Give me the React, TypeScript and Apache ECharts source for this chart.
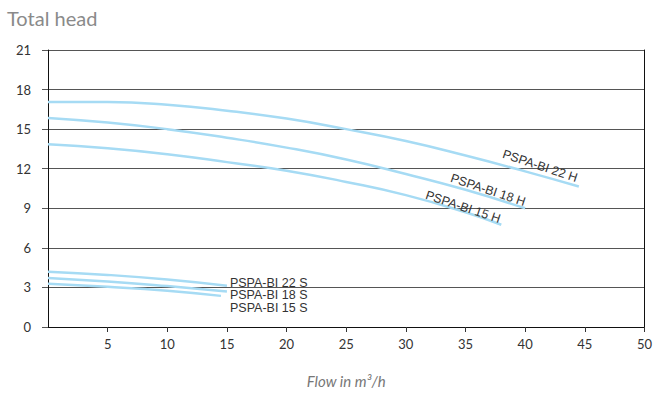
import React, { useEffect, useRef } from "react";
import * as echarts from "echarts";

const xTicks = [0, 5, 10, 15, 20, 25, 30, 35, 40, 45, 50];
const yTicks = [0, 3, 6, 9, 12, 15, 18, 21];

const h22x = [0, 5, 10, 15, 20, 25, 30, 35, 40, 44.5];
const h22y = [17.05, 17.05, 16.85, 16.4, 15.8, 15.0, 14.1, 13.0, 11.8, 10.65];
const h18x = [0, 5, 10, 15, 20, 25, 30, 35, 40];
const h18y = [15.85, 15.5, 15.0, 14.35, 13.6, 12.7, 11.6, 10.4, 9.0];
const h15x = [0, 5, 10, 15, 20, 25, 30, 35, 38];
const h15y = [13.85, 13.55, 13.1, 12.5, 11.85, 11.0, 10.0, 8.7, 7.75];
const s22x = [0, 5, 10, 15];
const s22y = [4.19, 3.95, 3.6, 3.13];
const s18x = [0, 5, 10, 15];
const s18y = [3.72, 3.45, 3.1, 2.7];
const s15x = [0, 5, 10, 14.5];
const s15y = [3.28, 3.05, 2.75, 2.36];

const names = ["PSPA-BI 22 H", "PSPA-BI 18 H", "PSPA-BI 15 H", "PSPA-BI 22 S", "PSPA-BI 18 S", "PSPA-BI 15 S"];

const FONT = "Lato, 'Noto Sans', sans-serif";
const LFONT = "'Liberation Sans', Arial, sans-serif";
const LINE = "#a6dbf4";

function pairs(xs: number[], ys: number[]) {
  return xs.map((x, i) => [x, ys[i]]);
}

export default function App() {
  const ref = useRef<HTMLDivElement>(null);
  useEffect(() => {
    if (!ref.current) return;
    const chart = echarts.init(ref.current, null, { renderer: "svg" });
    const mk = (name: string, xs: number[], ys: number[], endLabel?: any) => ({
      type: "line",
      name,
      data: pairs(xs, ys),
      smooth: true,
      symbol: "none",
      lineStyle: { color: LINE, width: 2.5 },
      endLabel: endLabel,
      z: 3,
    });
    const sLabel = (offset: number[]) => ({
      show: true,
      formatter: "{a}",
      distance: 0,
      offset,
      color: "#333",
      fontSize: 12.5,
      lineHeight: 11,
      fontFamily: LFONT,
    });
    const hText = (name: string, x: number, y: number) => ({
      type: "text",
      x,
      y,
      rotation: -0.32,
      z: 10,
      style: {
        text: name,
        fill: "#333",
        font: `12.5px ${LFONT}`,
        align: "center",
        verticalAlign: "middle",
      },
    });
    chart.setOption({
      animation: false,
      grid: { left: 48, right: 9, top: 50, bottom: 61, containLabel: false },
      xAxis: {
        type: "value",
        min: 0,
        max: 50,
        interval: 5,
        axisLine: { show: true, lineStyle: { color: "#111", width: 1 } },
        axisTick: { show: true, length: 5, lineStyle: { color: "#333" } },
        axisLabel: { showMinLabel: false, color: "#333", fontSize: 13, fontFamily: FONT, margin: 10 },
        splitLine: { show: false },
        name: "Flow in m³/h",
        nameLocation: "middle",
        nameGap: 46,
        nameTextStyle: { color: "#777", fontSize: 15, fontStyle: "italic", fontFamily: FONT },
      },
      yAxis: [
        {
          type: "value",
          min: 0,
          max: 21,
          interval: 3,
          axisLine: { show: true, lineStyle: { color: "#111", width: 1 } },
          axisTick: { show: true, length: 6, lineStyle: { color: "#555" } },
          axisLabel: { color: "#333", fontSize: 13, fontFamily: FONT, margin: 17 },
          splitLine: { show: true, lineStyle: { color: "#555", width: 1 } },
        },
        {
          type: "value",
          position: "right",
          min: 0,
          max: 21,
          interval: 3,
          axisLine: { show: true, lineStyle: { color: "#111", width: 1 } },
          axisTick: { show: false },
          axisLabel: { show: false },
          splitLine: { show: false },
        },
      ],
      graphic: [
        {
          type: "text",
          left: 7,
          top: 8,
          style: { text: "Total head", fill: "#8a8a8a", font: `20px ${FONT}` },
        },
        hText(names[0], 540, 166),
        hText(names[1], 488, 190),
        hText(names[2], 463, 207),
      ],
      series: [
        mk(names[0], h22x, h22y),
        mk(names[1], h18x, h18y),
        mk(names[2], h15x, h15y),
        mk(names[3], s22x, s22y, sLabel([3, -3])),
        mk(names[4], s18x, s18y, sLabel([3, 4])),
        mk(names[5], s15x, s15y, sLabel([9, 12])),
      ],
    });
    return () => chart.dispose();
  }, []);
  return <div ref={ref} style={{ width: 655, height: 393, position: "absolute", left: 0, top: 0 }} />;
}
